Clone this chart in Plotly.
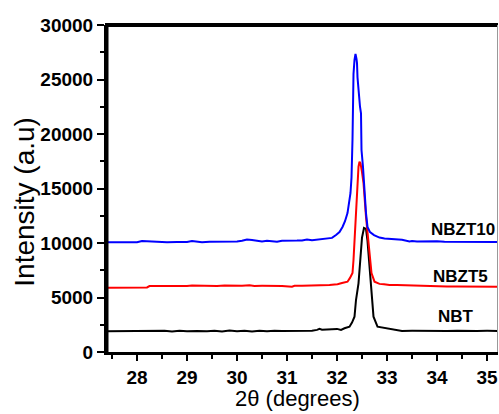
import plotly.graph_objects as go

# XRD patterns around the (110) reflection for NBT, NBZT5 and NBZT10
series_names = ["NBT", "NBZT5", "NBZT10"]
series_colors = ["black", "red", "blue"]

nbt_2theta = [27.40, 27.60, 27.80, 28.00, 28.20, 28.30, 28.40, 28.55, 28.70, 28.85,
              29.00, 29.10, 29.20, 29.40, 29.55, 29.70, 29.85, 30.00, 30.15, 30.30,
              30.45, 30.60, 30.75, 30.90, 31.10, 31.30, 31.50, 31.60, 31.65, 31.70,
              31.80, 31.90, 32.00, 32.08, 32.15, 32.25, 32.30, 32.35, 32.38, 32.43,
              32.47, 32.50, 32.54, 32.58, 32.61, 32.65, 32.67, 32.69, 32.73, 32.81,
              32.90, 33.00, 33.10, 33.20, 33.30, 33.50, 33.70, 33.85, 34.00, 34.20,
              34.40, 34.60, 34.80, 35.00, 35.25]
nbt_intensity = [1900, 1910, 1900, 1920, 1910, 1960, 1900, 1950, 1890, 1960,
                 1900, 1950, 1930, 1900, 1960, 1890, 1970, 1900, 1960, 1890,
                 1950, 1900, 1960, 1920, 1930, 1940, 1950, 2030, 2120, 2040,
                 2080, 2100, 2120, 2020, 2180, 2320, 2700, 3240, 4770, 6300,
                 9000, 10500, 11380, 11300, 10200, 7830, 6300, 4770, 3240, 2320,
                 2250, 2200, 2100, 2000, 1930, 1940, 1920, 1970, 1930, 1920,
                 1960, 1920, 1930, 1940, 1930]

nbzt5_2theta = [27.40, 27.60, 27.80, 28.00, 28.20, 28.25, 28.40, 28.60, 28.80, 29.00,
                29.10, 29.20, 29.35, 29.50, 29.60, 29.75, 29.90, 30.00, 30.10, 30.25,
                30.35, 30.50, 30.70, 30.90, 31.10, 31.15, 31.30, 31.50, 31.70, 31.85,
                31.95, 32.01, 32.10, 32.21, 32.26, 32.31, 32.33, 32.34, 32.37, 32.40,
                32.43, 32.45, 32.47, 32.50, 32.53, 32.58, 32.62, 32.65, 32.67, 32.69,
                32.75, 32.85, 32.94, 33.05, 33.20, 33.35, 33.50, 33.60, 33.75, 33.85,
                34.00, 34.20, 34.40, 34.60, 34.80, 35.00, 35.25]
nbzt5_intensity = [5900, 5910, 5900, 5905, 5920, 6050, 6040, 6060, 6050, 6055,
                   6100, 6090, 6050, 6080, 6060, 6110, 6070, 6100, 6080, 6120,
                   6060, 6070, 6080, 6060, 5990, 6070, 6080, 6090, 6100, 6150,
                   6200, 6210, 6330, 6450, 6800, 7250, 8440, 9360, 12390, 15500,
                   17000, 17460, 17300, 16500, 15500, 12390, 10500, 9360, 8440, 7250,
                   6450, 6250, 6210, 6150, 6150, 6130, 6050, 6080, 6030, 6060,
                   6030, 6000, 6010, 5990, 6000, 5990, 5990]

nbzt10_2theta = [27.40, 27.60, 27.80, 28.00, 28.10, 28.25, 28.40, 28.60, 28.80, 29.00,
                 29.10, 29.25, 29.30, 29.45, 29.60, 29.75, 29.90, 30.00, 30.10, 30.20,
                 30.30, 30.40, 30.50, 30.60, 30.70, 30.80, 30.90, 31.00, 31.10, 31.20,
                 31.30, 31.40, 31.50, 31.60, 31.70, 31.80, 31.90, 31.98, 32.05, 32.11,
                 32.16, 32.21, 32.25, 32.27, 32.29, 32.30, 32.31, 32.32, 32.33, 32.35,
                 32.37, 32.39, 32.40, 32.41, 32.43, 32.46, 32.48, 32.49, 32.52, 32.55,
                 32.58, 32.61, 32.66, 32.74, 32.85, 32.95, 33.10, 33.30, 33.45, 33.50,
                 33.60, 33.75, 33.90, 34.00, 34.15, 34.30, 34.50, 34.70, 34.90, 35.10,
                 35.25]
nbzt10_intensity = [10060, 10070, 10050, 10080, 10180, 10150, 10080, 10070, 10090, 10100,
                    10180, 10140, 10060, 10120, 10130, 10100, 10150, 10140, 10200, 10310,
                    10280, 10220, 10140, 10200, 10150, 10110, 10200, 10190, 10170, 10220,
                    10240, 10330, 10260, 10300, 10320, 10380, 10470, 10730, 11000, 11470,
                    12000, 12750, 13900, 14590, 16000, 17000, 19500, 22500, 25500, 26800,
                    27340, 26900, 26500, 25200, 23800, 22500, 21900, 18530, 16970, 14590,
                    12750, 11470, 11000, 10730, 10500, 10420, 10350, 10300, 10150, 10180,
                    10130, 10160, 10120, 10150, 10120, 10110, 10100, 10110, 10100, 10110,
                    10100]

# label anchor points (2theta, intensity) placed beside each baseline
label_x = [34.38, 34.47, 34.52]
label_y = [3300, 6972, 11284]

y_ticks = [0, 5000, 10000, 15000, 20000, 25000, 30000]
x_ticks = [28, 29, 30, 31, 32, 33, 34, 35]

xs = [nbt_2theta, nbzt5_2theta, nbzt10_2theta]
ys = [nbt_intensity, nbzt5_intensity, nbzt10_intensity]

font_main = "Liberation Sans"
plot_w = 499 - 107 - 1
plot_h = 414 - 25 - 62

fig = go.Figure()
for name, color, x, y in zip(series_names, series_colors, xs, ys):
    fig.add_trace(go.Scatter(x=x, y=y, mode="lines", name=name,
                             line=dict(color=color, width=2)))

for name, lx, ly in zip(series_names, label_x, label_y):
    fig.add_annotation(x=lx, y=ly, text=name, showarrow=False,
                       xanchor="center", yanchor="middle",
                       font=dict(family=font_main, size=17, color="black", weight="bold"))

# axis titles
fig.add_annotation(xref="paper", yref="paper", x=0.488, y=-0.186,
                   text="2θ (degrees)", showarrow=False,
                   xanchor="center", yanchor="bottom",
                   font=dict(family=font_main, size=22, color="black"))
fig.add_annotation(xref="paper", yref="paper", x=-0.212, y=0.46,
                   text="Intensity (a.u)", showarrow=False, textangle=-90,
                   xanchor="center", yanchor="middle",
                   font=dict(family=font_main, size=28, color="black"))

fig.update_layout(
    width=499, height=414,
    margin=dict(l=107, r=1, t=25, b=62),
    paper_bgcolor="white", plot_bgcolor="white",
    showlegend=False,
    xaxis=dict(
        range=[27.4, 35.22], tickvals=x_ticks, ticktext=[str(v) for v in x_ticks],
        showgrid=False, zeroline=False,
        showline=True, linecolor="black", linewidth=3,
        ticks="outside", ticklen=6, tickwidth=2, tickcolor="black",
        minor=dict(dtick=0.5, tick0=27.5, ticks="outside", ticklen=4, tickwidth=2, tickcolor="black"),
        tickfont=dict(family=font_main, size=19, color="black", weight="bold"),
    ),
    yaxis=dict(
        range=[0, 30000], tickvals=y_ticks, ticktext=[str(v) for v in y_ticks],
        showgrid=False, zeroline=False,
        showline=True, linecolor="black", linewidth=3,
        ticks="outside", ticklen=7, tickwidth=2, tickcolor="black",
        minor=dict(dtick=2500, ticks="outside", ticklen=4, tickwidth=2, tickcolor="black"),
        tickfont=dict(family=font_main, size=19, color="black", weight="bold"),
    ),
)

# frame edges drawn as solid bars: heavy left and top, thin grey right
px_x = 1.0 / plot_w
px_y = 1.0 / plot_h
fig.add_shape(type="rect", xref="paper", yref="paper",
              x0=-2 * px_x, x1=1.5 * px_x, y0=-1.5 * px_y, y1=1 + 2 * px_y,
              fillcolor="black", line=dict(width=0), layer="above")
fig.add_shape(type="rect", xref="paper", yref="paper",
              x0=-2 * px_x, x1=1, y0=1 - 2 * px_y, y1=1 + 2 * px_y,
              fillcolor="black", line=dict(width=0), layer="above")
fig.add_shape(type="rect", xref="paper", yref="paper",
              x0=1 - px_x, x1=1, y0=0, y1=1,
              fillcolor="#999999", line=dict(width=0), layer="above")

fig.write_html("out.html")
